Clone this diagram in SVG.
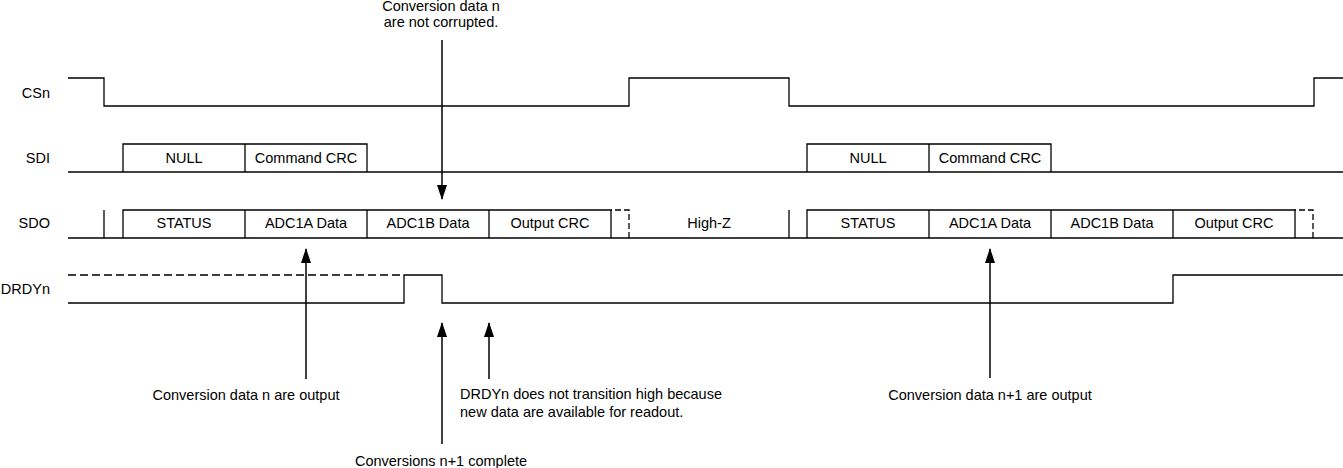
<svg xmlns="http://www.w3.org/2000/svg" width="1343" height="468" viewBox="0 0 1343 468">
<style>
text{font-family:"Liberation Sans",Arial,sans-serif;font-size:14.5px;fill:#000}
.m{text-anchor:middle}
.r{text-anchor:end}
.w{fill:none;stroke:#000;stroke-width:1.3}
.d{fill:none;stroke:#000;stroke-width:1.3;stroke-dasharray:8,4}
.dz{fill:none;stroke:#000;stroke-width:1.3;stroke-dasharray:6,3}
.a{fill:none;stroke:#000;stroke-width:1.5}
</style>
<defs>
<marker id="ah" viewBox="0 0 15 10" refX="14" refY="5" markerWidth="15" markerHeight="10" markerUnits="userSpaceOnUse" orient="auto">
<path d="M0,0 L15,5 L0,10 Z" fill="#000"/>
</marker>
</defs>
<rect width="1343" height="468" fill="#fff"/>
<g id="labels">
<text class="r" x="50" y="98">CSn</text>
<text class="r" x="50" y="163">SDI</text>
<text class="r" x="50" y="228">SDO</text>
<text class="r" x="50" y="294">DRDYn</text>
</g>
<g id="csn">
<polyline class="w" points="68,78 104,78 104,106 629,106 629,78 789,78 789,106 1314,106 1314,78 1343,78"/>
</g>
<g id="sdi">
<line class="w" x1="68" y1="172" x2="1343" y2="172"/>
<polyline class="w" points="123,172 123,144 367,144 367,172"/>
<line class="w" x1="245" y1="144" x2="245" y2="172"/>
<text class="m" x="184" y="163">NULL</text>
<text class="m" x="306" y="163">Command CRC</text>
<polyline class="w" points="807,172 807,144 1051,144 1051,172"/>
<line class="w" x1="929" y1="144" x2="929" y2="172"/>
<text class="m" x="868" y="163">NULL</text>
<text class="m" x="990" y="163">Command CRC</text>
</g>
<g id="sdo">
<line class="w" x1="68" y1="238" x2="1343" y2="238"/>
<line class="w" x1="104" y1="210" x2="104" y2="238"/>
<polyline class="w" points="123,238 123,210 611,210 611,238"/>
<line class="w" x1="245" y1="210" x2="245" y2="238"/>
<line class="w" x1="367" y1="210" x2="367" y2="238"/>
<line class="w" x1="489" y1="210" x2="489" y2="238"/>
<polyline class="dz" points="629,238 629,210 611,210"/>
<text class="m" x="184" y="228">STATUS</text>
<text class="m" x="306" y="228">ADC1A Data</text>
<text class="m" x="428" y="228">ADC1B Data</text>
<text class="m" x="550" y="228">Output CRC</text>
<text class="m" x="709" y="228">High-Z</text>
<line class="w" x1="789" y1="210" x2="789" y2="238"/>
<polyline class="w" points="807,238 807,210 1295,210 1295,238"/>
<line class="w" x1="929" y1="210" x2="929" y2="238"/>
<line class="w" x1="1051" y1="210" x2="1051" y2="238"/>
<line class="w" x1="1173" y1="210" x2="1173" y2="238"/>
<polyline class="dz" points="1313,238 1313,210 1295,210"/>
<text class="m" x="868" y="228">STATUS</text>
<text class="m" x="990" y="228">ADC1A Data</text>
<text class="m" x="1112" y="228">ADC1B Data</text>
<text class="m" x="1234" y="228">Output CRC</text>
</g>
<g id="drdyn">
<line class="d" x1="68" y1="275" x2="404" y2="275"/>
<polyline class="w" points="68,303 404,303 404,275 442,275 442,303 1173,303 1173,275 1343,275"/>
</g>
<g id="connectors">
<line class="a" x1="442" y1="40" x2="442" y2="199" marker-end="url(#ah)"/>
<line class="a" x1="306" y1="379" x2="306" y2="249" marker-end="url(#ah)"/>
<line class="a" x1="442" y1="444" x2="442" y2="323" marker-end="url(#ah)"/>
<line class="a" x1="489" y1="379" x2="489" y2="323" marker-end="url(#ah)"/>
<line class="a" x1="990" y1="378" x2="990" y2="249" marker-end="url(#ah)"/>
</g>
<g id="notes">
<text class="m" x="441" y="11">Conversion data n</text>
<text class="m" x="441" y="27">are not corrupted.</text>
<text class="m" x="246" y="400">Conversion data n are output</text>
<text x="460" y="399">DRDYn does not transition high because</text>
<text x="460" y="417">new data are available for readout.</text>
<text class="m" x="441" y="466">Conversions n+1 complete</text>
<text class="m" x="990" y="400">Conversion data n+1 are output</text>
</g>
</svg>
